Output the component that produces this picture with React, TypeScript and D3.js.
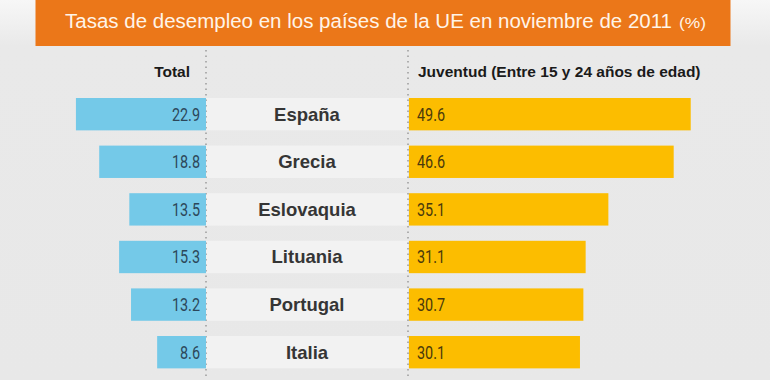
import React from "react";
import * as d3 from "d3";

const countries = ["España", "Grecia", "Eslovaquia", "Lituania", "Portugal", "Italia"];
const totalValues = [22.9, 18.8, 13.5, 15.3, 13.2, 8.6];
const youthValues = [49.6, 46.6, 35.1, 31.1, 30.7, 30.1];
const titleText = "Tasas de desempleo en los países de la UE en noviembre de 2011";
const titleUnit = "(%)";
const leftHeader = "Total";
const rightHeader = "Juventud (Entre 15 y 24 años de edad)";

const W = 770;
const H = 380;
const leftAxisX = 206;
const rightAxisX = 408;
const rightBarX = 409;

export default function App() {
  const x = d3.scaleLinear().domain([0, 50]).range([0, 284]);
  const y = d3
    .scaleBand<string>()
    .domain(countries)
    .range([98, 98 + 47.6 * (countries.length - 0.32)])
    .paddingInner(0.32)
    .paddingOuter(0)
    .align(0);
  const bw = y.bandwidth();
  const valueFont = "Roboto, 'Liberation Sans', sans-serif";
  const labelFont = "'Liberation Sans', Arial, sans-serif";

  return (
    <svg
      width={W}
      height={H}
      style={{ position: "absolute", left: 0, top: 0, display: "block" }}
    >
      <defs>
        <linearGradient id="bg" x1="0" y1="0" x2="0" y2="1">
          <stop offset="0" stopColor="#f7f7f7" />
          <stop offset="0.12" stopColor="#e9e9e9" />
          <stop offset="1" stopColor="#e8e8e8" />
        </linearGradient>
      </defs>
      <rect x={0} y={0} width={W} height={H} fill="url(#bg)" />

      {/* center label bands */}
      {countries.map((c) => (
        <rect
          key={"band" + c}
          x={leftAxisX}
          y={y(c)}
          width={rightAxisX - leftAxisX}
          height={bw}
          fill="#f2f2f2"
        />
      ))}

      {/* dotted axes */}
      {[leftAxisX, rightAxisX].map((ax) => (
        <line
          key={"ax" + ax}
          x1={ax}
          x2={ax}
          y1={50}
          y2={H}
          stroke="#9a9a9a"
          strokeWidth={1.5}
          strokeDasharray="1.5 4"
        />
      ))}

      {/* left bars */}
      {countries.map((c, i) => (
        <rect
          key={"lb" + c}
          x={leftAxisX - x(totalValues[i])}
          y={y(c)}
          width={x(totalValues[i])}
          height={bw}
          fill="#74c9e8"
        />
      ))}
      {/* right bars */}
      {countries.map((c, i) => (
        <rect
          key={"rb" + c}
          x={rightBarX}
          y={y(c)}
          width={x(youthValues[i])}
          height={bw}
          fill="#fcbd00"
        />
      ))}

      {/* left values */}
      {countries.map((c, i) => (
        <text
          key={"lv" + c}
          transform={`translate(${200},${(y(c) as number) + bw / 2 + 6.5}) scale(0.8,1)`}
          textAnchor="end"
          fontFamily={valueFont}
          fontWeight={400}
          fontSize={18}
          fill="#2c475a"
        >
          {totalValues[i].toFixed(1)}
        </text>
      ))}
      {/* right values */}
      {countries.map((c, i) => (
        <text
          key={"rv" + c}
          transform={`translate(${417},${(y(c) as number) + bw / 2 + 6.5}) scale(0.8,1)`}
          textAnchor="start"
          fontFamily={valueFont}
          fontWeight={400}
          fontSize={18}
          fill="#4a3a0c"
        >
          {youthValues[i].toFixed(1)}
        </text>
      ))}

      {/* country labels */}
      {countries.map((c) => (
        <text
          key={"cl" + c}
          x={(leftAxisX + rightAxisX) / 2}
          y={(y(c) as number) + bw / 2 + 6.5}
          textAnchor="middle"
          fontFamily={labelFont}
          fontWeight="bold"
          fontSize={18.5}
          fill="#353535"
        >
          {c}
        </text>
      ))}

      {/* headers */}
      <text
        x={190}
        y={77}
        textAnchor="end"
        fontFamily={labelFont}
        fontWeight="bold"
        fontSize={15.5}
        fill="#1a1a1a"
      >
        {leftHeader}
      </text>
      <text
        x={418}
        y={77}
        textAnchor="start"
        fontFamily={labelFont}
        fontWeight="bold"
        fontSize={15.5}
        fill="#1a1a1a"
      >
        {rightHeader}
      </text>

      {/* title banner */}
      <rect x={35.5} y={0} width={695} height={46} fill="#eb7719" />
      <text
        x={65}
        y={27.5}
        fontFamily={labelFont}
        fontWeight={400}
        fontSize={19.5}
        fill="#fff4e8"
        textLength={607}
        lengthAdjust="spacingAndGlyphs"
      >
        {titleText}
      </text>
      <text
        x={679}
        y={27.5}
        fontFamily={labelFont}
        fontWeight={400}
        fontSize={14}
        fill="#fff4e8"
        textLength={27}
        lengthAdjust="spacingAndGlyphs"
      >
        {titleUnit}
      </text>
    </svg>
  );
}
